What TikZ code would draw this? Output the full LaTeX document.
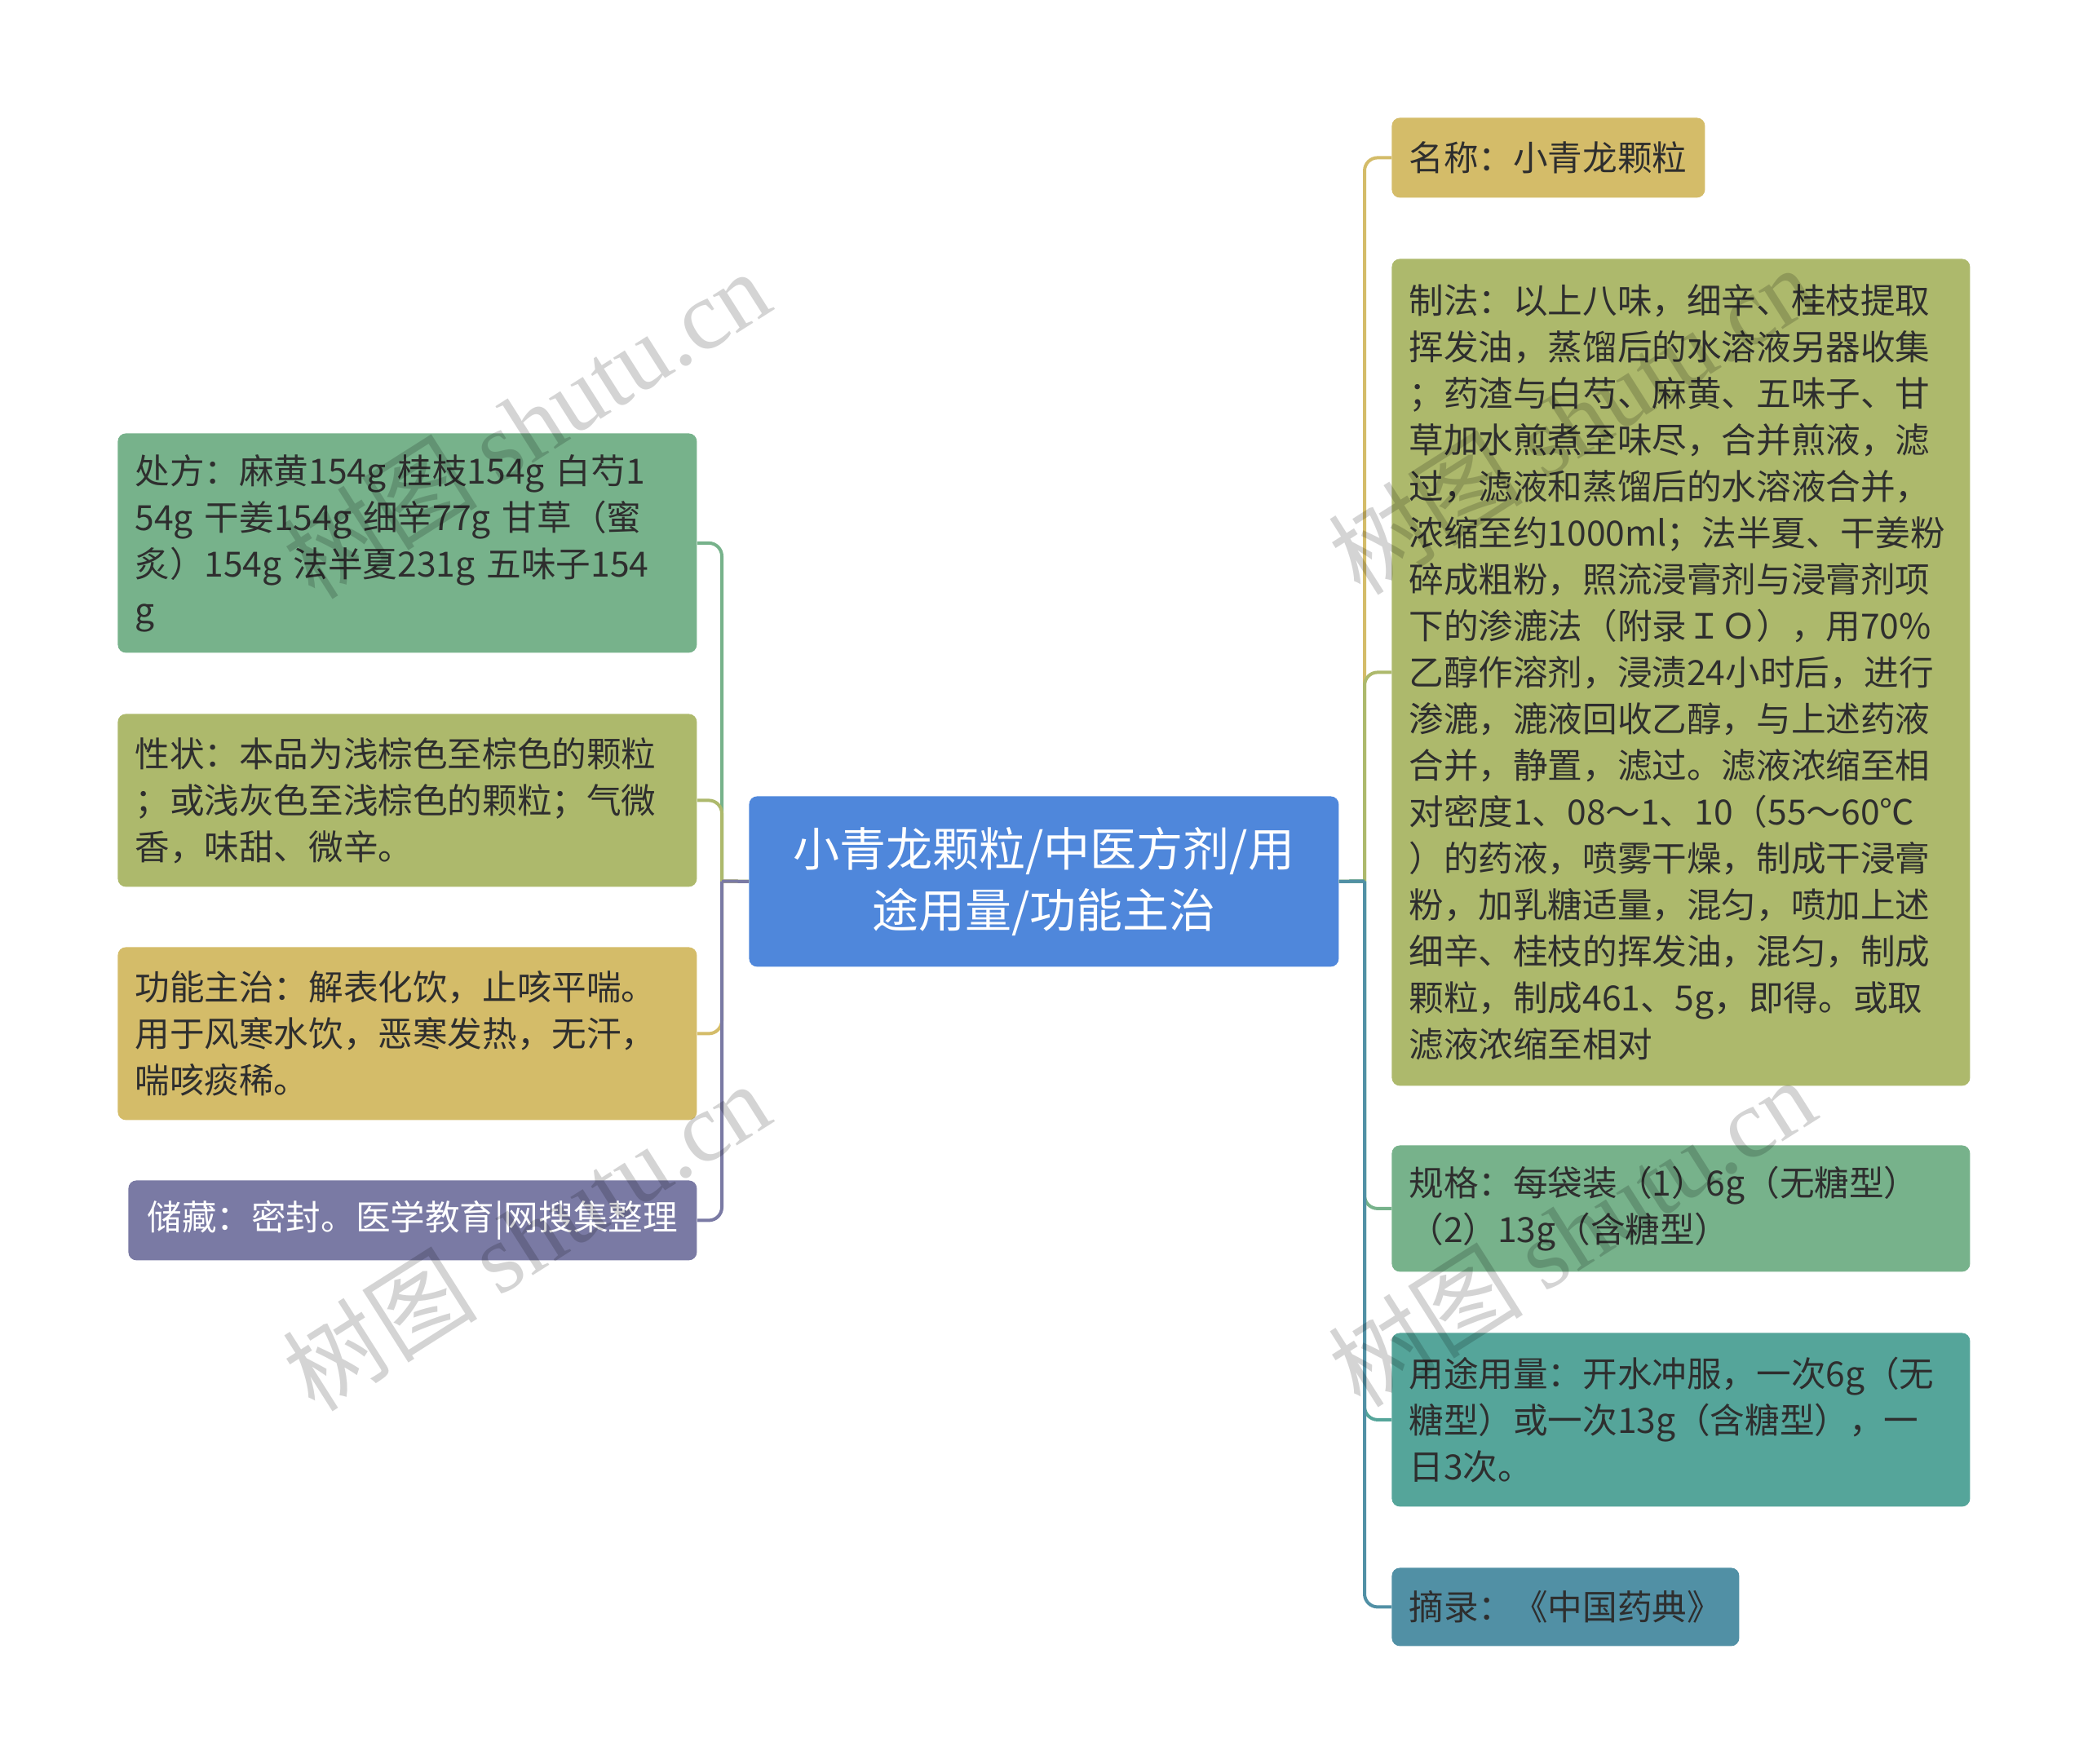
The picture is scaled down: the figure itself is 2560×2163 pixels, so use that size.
\documentclass[tikz,border=0pt]{standalone}
\usepackage{fontspec}
\setmainfont{Noto Sans CJK SC}
\newfontfamily\wmserif{Liberation Serif}

\definecolor{cgreen}{HTML}{77B28B}
\definecolor{colive}{HTML}{ADB96C}
\definecolor{cgold}{HTML}{D4BC69}
\definecolor{cpurple}{HTML}{7A7AA4}
\definecolor{cteal}{HTML}{55A59A}
\definecolor{cblueteal}{HTML}{5190A5}
\definecolor{cblue}{HTML}{4F87DB}
\definecolor{ctext}{HTML}{2E2E2E}

\begin{document}
\begin{tikzpicture}[x=0.5pt,y=-0.5pt,
  box/.style={draw=none, rounded corners=5pt, anchor=north west, inner xsep=10.5pt, inner ysep=0pt,
              align=left, text=ctext, font=\fontsize{21.3}{28.5}\selectfont},
  rootbox/.style={draw=none, rounded corners=5pt, anchor=north west, inner xsep=10.5pt, inner ysep=0pt,
              align=center, text=white, font=\fontsize{28.5}{37.5}\selectfont},
  conn/.style={line width=2pt},
  elbow/.style={line width=2pt, rounded corners=8pt},
  wmark/.style={rotate=32.4, text=black, text opacity=0.17, font=\fontsize{60}{60}\selectfont},
]
\useasboundingbox (0,0) rectangle (2560,2163);

% root
\node[rootbox, fill=cblue, text width=340.5pt, minimum height=104.5pt] (c) at (918,976)
  {小青龙颗粒/中医方剂/用\\途用量/功能主治};

% left nodes
\node[box, fill=cgreen, text width=334pt, minimum height=134.5pt] (n1) at (144,531)
  {处方：麻黄154g 桂枝154g 白芍1\\54g 干姜154g 细辛77g 甘草（蜜\\炙）154g 法半夏231g 五味子154\\g};
\node[box, fill=colive, text width=334pt, minimum height=106pt] (n2) at (144,875)
  {性状：本品为浅棕色至棕色的颗粒\\；或浅灰色至浅棕色的颗粒；气微\\香，味甜、微辛。};
\node[box, fill=cgold, text width=334pt, minimum height=106pt] (n3) at (144,1161)
  {功能主治：解表化饮，止咳平喘。\\用于风寒水饮，恶寒发热，无汗，\\喘咳痰稀。};
\node[box, fill=cpurple, text=white, inner xsep=11.5pt, text width=325.5pt, minimum height=49pt] (n4) at (157,1447)
  {储藏：密封。医学教育|网搜集整理};

% right nodes
\node[box, fill=cgold, text width=171pt, minimum height=49pt] (r1) at (1706,144)
  {名称：小青龙颗粒};
\node[box, fill=colive, text width=333.5pt, minimum height=507pt] (r2) at (1706,317)
  {制法：以上八味，细辛、桂枝提取\\挥发油，蒸馏后的水溶液另器收集\\；药渣与白芍、麻黄、五味子、甘\\草加水煎煮至味尽，合并煎液，滤\\过，滤液和蒸馏后的水溶液合并，\\浓缩至约1000ml；法半夏、干姜粉\\碎成粗粉，照流浸膏剂与浸膏剂项\\下的渗漉法（附录ＩＯ），用70\%\\乙醇作溶剂，浸渍24小时后，进行\\渗漉，漉液回收乙醇，与上述药液\\合并，静置，滤过。滤液浓缩至相\\对密度1、08～1、10（55～60℃\\）的药液，喷雾干燥，制成干浸膏\\粉，加乳糖适量，混匀，喷加上述\\细辛、桂枝的挥发油，混匀，制成\\颗粒，制成461、5g，即得。或取\\滤液浓缩至相对};
\node[box, fill=cgreen, text width=333.5pt, minimum height=77.5pt] (r3) at (1706,1404)
  {规格：每袋装（1）6g（无糖型）\\（2）13g（含糖型）};
\node[box, fill=cteal, text width=333.5pt, minimum height=106.5pt] (r4) at (1706,1634)
  {用途用量：开水冲服，一次6g（无\\糖型）或一次13g（含糖型），一\\日3次。};
\node[box, fill=cblueteal, text width=192pt, minimum height=48pt] (r5) at (1706,1922)
  {摘录：《中国药典》};

% trunk points
\coordinate (TL) at (885,1080.5);
\coordinate (TR) at (1673,1080.5);

% left connectors
\draw[conn, cgreen] (c.west) -- (TL);
\draw[elbow, cgreen] (TL) |- (n1.east);
\draw[conn, colive] (c.west) -- (TL);
\draw[elbow, colive] (TL) |- (n2.east);
\draw[conn, cgold] (c.west) -- (TL);
\draw[elbow, cgold] (TL) |- (n3.east);
\draw[conn, cpurple] (c.west) -- (TL);
\draw[elbow, cpurple] (TL) |- (n4.east);

% right connectors
\draw[conn, cgold] (c.east) -- (TR);
\draw[elbow, cgold] (TR) |- (r1.west);
\draw[conn, colive] (c.east) -- (TR);
\draw[elbow, colive] (TR) |- (r2.west);
\draw[conn, cgreen] (c.east) -- (TR);
\draw[elbow, cgreen] (TR) |- (r3.west);
\draw[conn, cteal] (c.east) -- (TR);
\draw[elbow, cteal] (TR) |- (r4.west);
\draw[conn, cblueteal] (c.east) -- (TR);
\draw[elbow, cblueteal] (TR) |- (r5.west);

% watermarks
\node[wmark] (wm1) at (645,519) {树图 {\wmserif shutu.cn}};
\node[wmark] (wm2) at (645,1515) {树图 {\wmserif shutu.cn}};
\node[wmark] (wm3) at (1927,514) {树图 {\wmserif shutu.cn}};
\node[wmark] (wm4) at (1927,1510) {树图 {\wmserif shutu.cn}};
\end{tikzpicture}
\end{document}
